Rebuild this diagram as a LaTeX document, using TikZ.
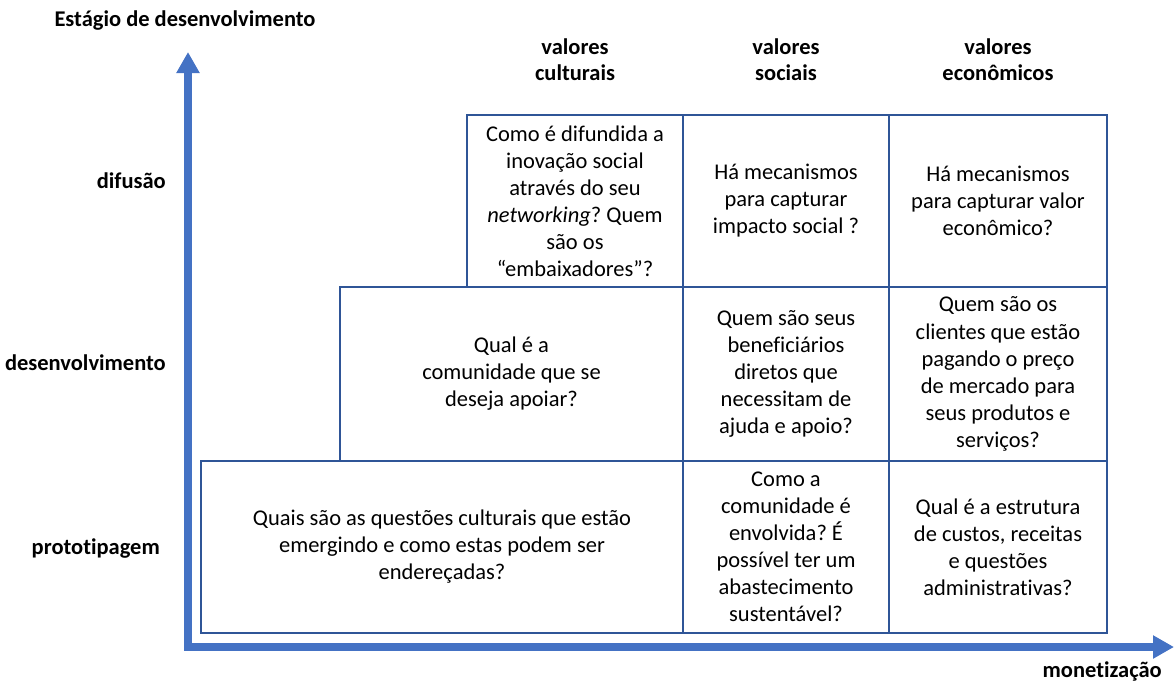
\documentclass[tikz,border=0pt]{standalone}
\usepackage{fontspec}
\setmainfont[Ligatures={NoCommon}]{Carlito}
\usepackage{tikz}
\usetikzlibrary{arrows.meta}
\frenchspacing

\definecolor{axisblue}{HTML}{4472C4}
\definecolor{cellblue}{HTML}{2F5597}

\tikzset{
	cell/.style={draw=cellblue,line width=1.5pt,inner sep=0pt,align=center,minimum height=3.44cm,font=\fontsize{12.8}{15.4}\selectfont},
	header/.style={align=center,font=\fontsize{12.8}{15}\selectfont\bfseries},
	rowlabel/.style={anchor=east,font=\fontsize{12.8}{15}\selectfont\bfseries},
	axis/.style={draw=axisblue,line width=4pt,{Triangle[width=0.44cm,length=0.42cm]}-{Triangle[width=0.44cm,length=0.42cm]}}
}

\begin{document}
\begin{tikzpicture}[x=0.02cm,y=-0.02cm]
		\useasboundingbox (0,0) rectangle (1174,684);

		\coordinate (ytip) at (188,52);
		\coordinate (xtip) at (1174,647);
		\draw[axis] (ytip) |- (xtip);
		\node[font=\fontsize{12.8}{15}\selectfont\bfseries] (ylabel) at (185,21) {Estágio de desenvolvimento};
		\node[font=\fontsize{12.8}{15}\selectfont\bfseries,anchor=east] (xlabel) at (1168,671) {monetização};

		\node[header] (hcult) at (575,60) {valores\\culturais};
		\node[header] (hsoc) at (786,60) {valores\\sociais};
		\node[header] (heco) at (998,60) {valores\\econômicos};

		\node[rowlabel] (rdif) at (172,181) {difusão};
		\node[rowlabel] (rdes) at (172,363) {desenvolvimento};
		\node[rowlabel] (rpro) at (166,549) {prototipagem};

		\node[cell,minimum width=4.32cm] (cultdif) at (575,201) {Como é difundida a\\inovação social\\através do seu\\\textit{networking}? Quem\\são os\\“embaixadores”?};
		\node[cell,minimum width=4.12cm] (socdif) at (786,201) {Há mecanismos\\para capturar\\impacto social ?};
		\node[cell,minimum width=4.36cm] (ecodif) at (998,201) {Há mecanismos\\para capturar valor\\econômico?};

		\node[cell,minimum width=6.86cm,minimum height=3.48cm] (cultdes) at (511.5,374) {Qual é a\\comunidade que se\\deseja apoiar?};
		\node[cell,minimum width=4.12cm,minimum height=3.48cm] (socdes) at (786,374) {Quem são seus\\beneficiários\\diretos que\\necessitam de\\ajuda e apoio?};
		\node[cell,minimum width=4.36cm,minimum height=3.48cm] (ecodes) at (998,374) {Quem são os\\clientes que estão\\pagando o preço\\de mercado para\\seus produtos e\\serviços?};

		\node[cell,minimum width=9.64cm] (cultpro) at (442,547) {Quais são as questões culturais que estão\\emergindo e como estas podem ser\\endereçadas?};
		\node[cell,minimum width=4.12cm] (socpro) at (786,547) {Como a\\comunidade é\\envolvida? É\\possível ter um\\abastecimento\\sustentável?};
		\node[cell,minimum width=4.36cm] (ecopro) at (998,547) {Qual é a estrutura\\de custos, receitas\\e questões\\administrativas?};
	\end{tikzpicture}
\end{document}
